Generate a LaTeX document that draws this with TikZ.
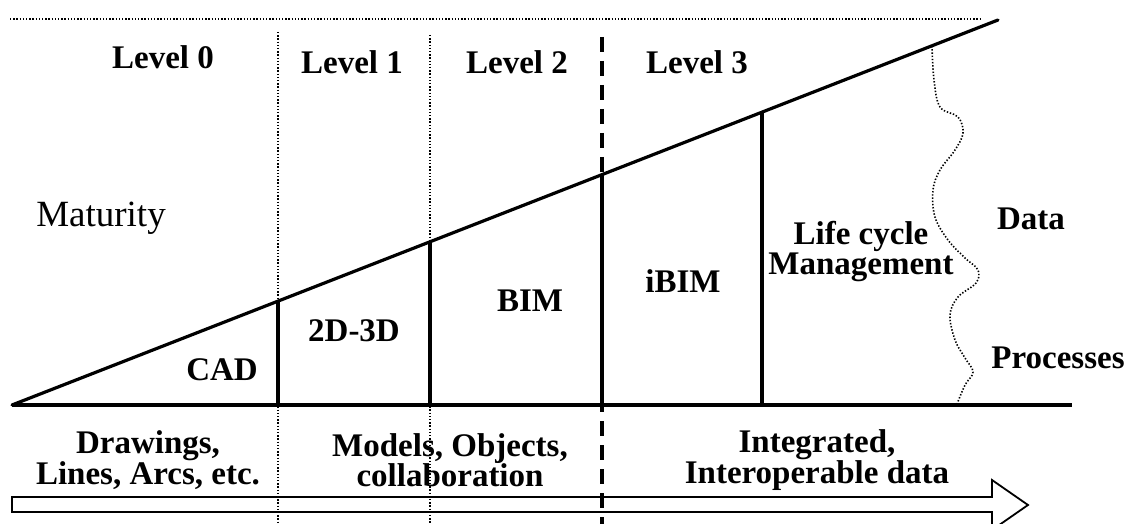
\documentclass[tikz,border=0pt]{standalone}
\usepackage{fontspec}
\setmainfont{Liberation Serif}
\begin{document}
\begin{tikzpicture}[x=1pt,y=-1pt,
  thickline/.style={line width=3.2pt},
  dotline/.style={line width=1.6pt, dash pattern=on 1.4pt off 1.8pt},
  dashline/.style={line width=3.2pt, dash pattern=on 15pt off 9pt},
  lbl/.style={font=\bfseries\fontsize{33}{30}\selectfont, inner sep=0pt, align=center},
  rlbl/.style={font=\fontsize{37}{36}\selectfont, inner sep=0pt}]
\useasboundingbox (0,0) rectangle (1133,524);
% coordinates
\coordinate (O) at (12,405);
\coordinate (E) at (998,20);
\coordinate (B) at (1072,405);
\coordinate (T1) at (278,301);
\coordinate (T2) at (430,242);
\coordinate (T3) at (602,175);
\coordinate (T4) at (762,112);
\coordinate (B1) at (278,405);
\coordinate (B2) at (430,405);
\coordinate (B3) at (602,405);
\coordinate (B4) at (762,405);
\coordinate (D1a) at (278,32);
\coordinate (D1b) at (278,524);
\coordinate (D2a) at (430,35);
\coordinate (D2b) at (430,524);
\coordinate (D3a) at (602,37);
\coordinate (D3b) at (602,524);
\coordinate (H1) at (10,19);
\coordinate (H2) at (980,19);
% top dotted line
\draw[dotline] (H1) -- (H2);
% dotted / dashed verticals
\draw[dotline] (D1a) -- (D1b);
\draw[dotline] (D2a) -- (D2b);
\draw[dashline] (D3a) -- (D3b);
% triangle
\draw[thickline, line cap=round] (O) -- (E);
\draw[thickline] (O) -- (B);
\draw[thickline] (T1) -- (B1);
\draw[thickline] (T2) -- (B2);
\draw[thickline] (T3) -- (B3);
\draw[thickline] (T4) -- (B4);
% wavy dotted line
\draw[dotline] plot[smooth, tension=0.6] coordinates {
  (932,46) (934,80) (940,107) (958,117) (963,133) (955,150) (940,170) (933,190)
  (935,217) (948,240) (965,258) (978,270) (976,283) (958,297) (950,315)
  (955,340) (965,358) (973,372) (965,385) (957,404)};
% bottom hollow arrow
\draw[line width=1.8pt, line join=miter] (12,497) -- (992,497) -- (992,480) -- (1028,505)
  -- (992,530) -- (992,512) -- (12,512) -- cycle;
% labels
\node[lbl] (l0) at (163,57) {Level 0};
\node[lbl] (l1) at (352,62) {Level 1};
\node[lbl] (l2) at (517,62) {Level 2};
\node[lbl] (l3) at (697,62) {Level 3};
\node[rlbl] (mat) at (101,218) {Maturity};
\node[lbl] (cad) at (222,370) {CAD};
\node[lbl] (d23) at (354,331) {2D-3D};
\node[lbl] (bim) at (530,301) {BIM};
\node[lbl] (ibim) at (683,281) {iBIM};
\node[lbl] (lcm) at (861,252) {Life cycle\\Management};
\node[lbl] (data) at (1031,219) {Data};
\node[lbl] (proc) at (1058,358) {Processes};
\node[lbl] (dr) at (148,460) {Drawings,\\Lines, Arcs, etc.};
\node[lbl] (mo) at (450,460) {Models, Objects,\\collaboration};
\node[lbl] (in) at (817,460) {Integrated,\\Interoperable data};
\end{tikzpicture}
\end{document}
